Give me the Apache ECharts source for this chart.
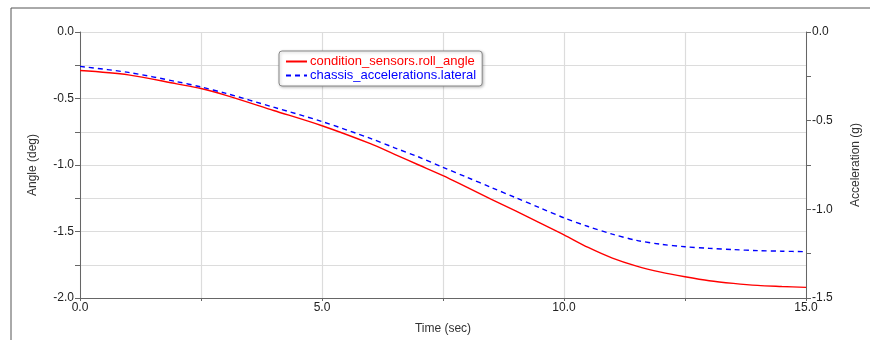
<!DOCTYPE html>
<html>
<head>
<meta charset="utf-8">
<script src="https://cdn.jsdelivr.net/npm/echarts@6/dist/echarts.min.js"></script>
<style>
  html, body { margin: 0; padding: 0; background: #fff; overflow: hidden; }
  #chart { width: 870px; height: 340px; }
</style>
</head>
<body>
<div id="chart"></div>
<script>
// Sample times (sec)
const timeSec = [0, 1, 2, 2.5, 3, 4, 5, 6, 6.5, 7, 7.5, 8, 8.5, 9, 9.5, 10, 10.5, 11, 11.5, 12, 12.5, 13, 13.5, 14, 14.5, 15];
// Roll angle (deg), left axis
const rollAngle = [-0.29, -0.322, -0.39, -0.425, -0.475, -0.59, -0.705, -0.84, -0.92, -1.0, -1.08, -1.169, -1.258, -1.345, -1.435, -1.525, -1.62, -1.70, -1.76, -1.805, -1.84, -1.87, -1.89, -1.905, -1.913, -1.92];
// Lateral acceleration (g), right axis
const lateralAccel = [-0.194, -0.228, -0.28, -0.31, -0.345, -0.424, -0.505, -0.60, -0.653, -0.705, -0.763, -0.82, -0.877, -0.934, -0.991, -1.048, -1.097, -1.14, -1.175, -1.197, -1.211, -1.22, -1.227, -1.233, -1.236, -1.239];

const seriesNames = ['condition_sensors.roll_angle', 'chassis_accelerations.lateral'];
const axisNames = { x: 'Time (sec)', left: 'Angle (deg)', right: 'Acceleration (g)' };

const FONT = 'Liberation Sans, Arial, sans-serif';
const AXIS_COLOR = '#666';
const GRID_COLOR = '#dcdcdc';

const pairs = (xs, ys) => xs.map((x, i) => [x, ys[i]]);
const near = (v, step) => Math.abs(v / step - Math.round(v / step)) < 1e-6;

const chart = echarts.init(document.getElementById('chart'), null, { renderer: 'canvas', width: 870, height: 340 });

chart.setOption({
  animation: false,
  backgroundColor: '#fff',
  textStyle: { fontFamily: FONT },
  graphic: [{
    type: 'rect',
    shape: { x: 11, y: 8, width: 880, height: 360 },
    style: { fill: 'none', stroke: '#555', lineWidth: 1 },
    silent: true, z: -1
  }],
  grid: { left: 80, top: 32, width: 731, height: 268, containLabel: false },
  legend: {
    orient: 'vertical',
    left: 279, top: 51,
    padding: [4, 6, 4, 6],
    itemGap: 1,
    itemWidth: 21, itemHeight: 12,
    backgroundColor: '#fff',
    borderColor: '#888', borderWidth: 1, borderRadius: 3,
    shadowColor: 'rgba(0,0,0,0.25)', shadowBlur: 3, shadowOffsetX: 1, shadowOffsetY: 1,
    // line-only keys: hide the marker drawn on the key line
    itemStyle: { color: 'rgba(0,0,0,0)', borderColor: 'rgba(0,0,0,0)', borderWidth: 0 },
    textStyle: { fontFamily: FONT, fontSize: 13, padding: [0, 0, 0, -2] },
    data: [
      { name: seriesNames[0], textStyle: { color: '#ff0000' } },
      { name: seriesNames[1], textStyle: { color: '#0000ff' } }
    ]
  },
  xAxis: {
    type: 'value', min: 0, max: 15, interval: 2.5,
    name: axisNames.x, nameLocation: 'middle', nameGap: 25,
    nameTextStyle: { color: '#333', fontSize: 12, fontFamily: FONT },
    axisLine: { show: true, onZero: false, lineStyle: { color: AXIS_COLOR } },
    axisTick: { show: true, length: 3, lineStyle: { color: AXIS_COLOR } },
    axisLabel: {
      color: '#222', fontSize: 12, margin: 4, fontFamily: FONT,
      formatter: v => near(v, 5) ? v.toFixed(1) : ''
    },
    splitLine: { show: true, lineStyle: { color: GRID_COLOR, width: 1.2 } }
  },
  yAxis: [{
    type: 'value', position: 'left', min: -2, max: 0, interval: 0.25,
    name: axisNames.left, nameLocation: 'middle', nameGap: 41,
    nameTextStyle: { color: '#333', fontSize: 12, fontFamily: FONT },
    axisLine: { show: true, onZero: false, lineStyle: { color: AXIS_COLOR } },
    axisTick: { show: true, length: 5, lineStyle: { color: AXIS_COLOR } },
    axisLabel: {
      color: '#222', fontSize: 12, margin: 6, fontFamily: FONT,
      formatter: v => near(v, 0.5) ? v.toFixed(1) : ''
    },
    splitLine: { show: true, lineStyle: { color: GRID_COLOR, width: 1.2 } }
  }, {
    type: 'value', position: 'right', min: -1.5, max: 0, interval: 0.25,
    name: axisNames.right, nameLocation: 'middle', nameGap: 44,
    nameTextStyle: { color: '#333', fontSize: 12, fontFamily: FONT },
    axisLine: { show: true, onZero: false, lineStyle: { color: AXIS_COLOR } },
    axisTick: { show: true, length: 5, lineStyle: { color: AXIS_COLOR } },
    axisLabel: {
      color: '#222', fontSize: 12, margin: 6, fontFamily: FONT,
      formatter: v => near(v, 0.5) ? v.toFixed(1) : ''
    },
    splitLine: { show: false }
  }],
  series: [{
    name: seriesNames[0], type: 'line', yAxisIndex: 0,
    data: pairs(timeSec, rollAngle),
    symbol: 'none', smooth: 0.3,
    lineStyle: { color: '#ff0000', width: 1.4 },
    itemStyle: { color: '#ff0000' }
  }, {
    name: seriesNames[1], type: 'line', yAxisIndex: 1,
    data: pairs(timeSec, lateralAccel),
    symbol: 'none', smooth: 0.3,
    lineStyle: { color: '#0000ff', width: 1.4, type: [5, 4] },
    itemStyle: { color: '#0000ff' }
  }]
});
</script>
</body>
</html>
